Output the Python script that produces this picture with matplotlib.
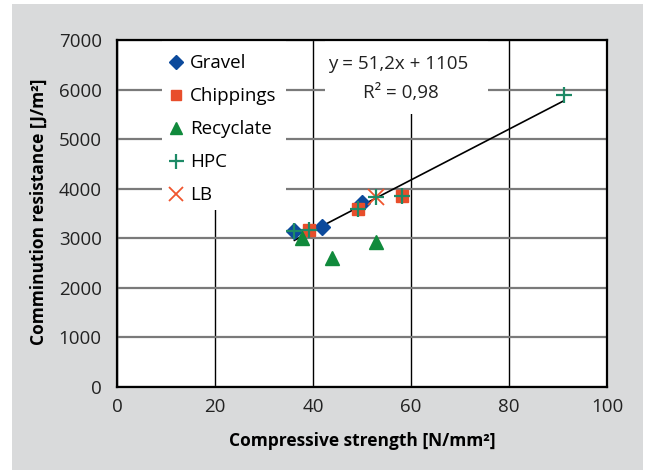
import matplotlib
matplotlib.use("Agg")
import matplotlib.pyplot as plt
from matplotlib.patches import Rectangle
import numpy as np

plt.rcParams['font.family'] = ['Open Sans', 'DejaVu Sans']

gravel_x = [36.2, 41.9, 50.0]
gravel_y = [3140, 3230, 3720]
chip_x = [39.1, 49.2, 58.1]
chip_y = [3160, 3590, 3850]
recy_x = [37.8, 43.9, 52.8]
recy_y = [3000, 2600, 2920]
hpc_x = [36.2, 39.1, 49.2, 52.8, 58.1, 91.2]
hpc_y = [3140, 3160, 3590, 3840, 3850, 5890]
lb_x = [52.8]
lb_y = [3840]
slope, intercept = 51.2, 1105
xticks = [0, 20, 40, 60, 80, 100]
yticks = [0, 1000, 2000, 3000, 4000, 5000, 6000, 7000]

fig = plt.figure(figsize=(6.51, 4.70), dpi=100)
fig.patch.set_facecolor('white')
bg = Rectangle((12/651, 0), (643-12)/651, 1 - 4/470,
               transform=fig.transFigure, facecolor='#d9dadb',
               edgecolor='none', zorder=-10)
fig.add_artist(bg)
ax = fig.add_axes([117/651, 1 - 387/470, 490/651, 347/470])
ax.set_zorder(1)
ax.set_facecolor('white')
ax.set_xlim(0, 100)
ax.set_ylim(0, 7000)
ax.set_xticks(xticks)
ax.set_yticks(yticks)
ax.tick_params(length=0, labelsize=13.5, colors='#222222')
ax.tick_params(axis='y', pad=11)
ax.tick_params(axis='x', pad=8)
for s in ax.spines.values():
    s.set_linewidth(1.6)
    s.set_color('black')
    s.set_zorder(6)

ax.set_axisbelow(True)
ax.yaxis.grid(True, color='#7a7a7a', linewidth=1.6)
ax.xaxis.grid(True, color='black', linewidth=1.0)

# white boxes for legend and equation
ax.add_patch(Rectangle((0.092, 0.51), 0.253, 0.49, transform=ax.transAxes,
                       facecolor='white', edgecolor='none', zorder=1))
ax.add_patch(Rectangle((0.424, 0.787), 0.333, 0.213, transform=ax.transAxes,
                       facecolor='white', edgecolor='none', zorder=1))

lx = np.array([min(gravel_x), max(hpc_x)])
ax.plot(lx, slope * lx + intercept, color='black', lw=1.2, zorder=2)

h1, = ax.plot(gravel_x, gravel_y, 'D', color='#0c4a9c', ms=8, mec='#0c4a9c', zorder=3, label='Gravel')
h2, = ax.plot(chip_x, chip_y, 's', color='#e84e2b', ms=8.5, zorder=3, label='Chippings')
h3, = ax.plot(recy_x, recy_y, '^', color='#108a3c', ms=10, zorder=3, label='Recyclate')
h4, = ax.plot(hpc_x, hpc_y, '+', color='#1d8a66', ms=12, mew=1.6, zorder=4, label='HPC')
h5, = ax.plot(lb_x, lb_y, 'x', color='#f0552e', ms=11, mew=1.3, zorder=3, label='LB')

leg = ax.legend(handles=[h1, h2, h3, h4, h5], loc='upper left',
                bbox_to_anchor=(0.066, 1.008), frameon=False, fontsize=13.5,
                labelspacing=0.8, handlelength=1.0, handletextpad=0.25,
                markerscale=0.9)
leg.set_zorder(5)

ax.text(0.574, 0.932, 'y = 51,2x + 1105', transform=ax.transAxes, ha='center',
        va='center', fontsize=13.5, zorder=5, color='#222222')
ax.text(0.58, 0.848, 'R² = 0,98', transform=ax.transAxes, ha='center',
        va='center', fontsize=13.5, zorder=5, color='#222222')

ax.set_xlabel('Compressive strength [N/mm²]', fontsize=12.5, fontweight='bold')
ax.set_ylabel('Comminution resistance [J/m²]', fontsize=12.5, fontweight='bold')
ax.xaxis.set_label_coords(0.5, -0.13)
ax.yaxis.set_label_coords(-0.142, 0.504)

fig.savefig('out.png', dpi=100, facecolor=fig.get_facecolor())
